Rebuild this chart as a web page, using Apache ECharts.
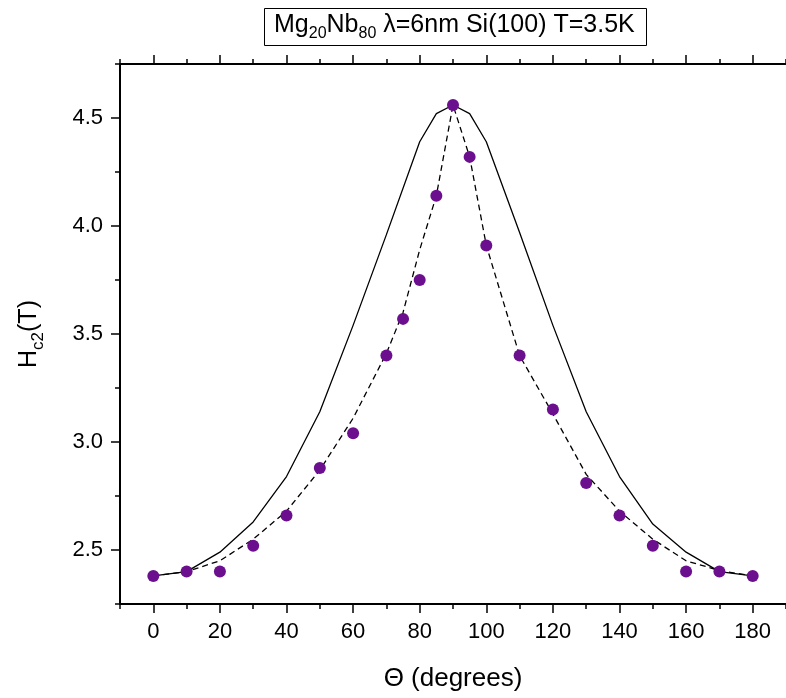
<!DOCTYPE html>
<html>
<head>
<meta charset="utf-8">
<script src="https://cdn.jsdelivr.net/npm/echarts@6/dist/echarts.min.js"></script>
<style>
  html, body { margin: 0; padding: 0; background: #fff; }
  #chart { width: 786px; height: 698px; }
</style>
</head>
<body>
<div id="chart"></div>
<script>
// Measured upper critical field vs. field angle
const thetaData = [0, 10, 20, 30, 40, 50, 60, 70, 75, 80, 85, 90, 95, 100, 110, 120, 130, 140, 150, 160, 170, 180];
const hc2Data   = [2.38, 2.40, 2.40, 2.52, 2.66, 2.88, 3.04, 3.40, 3.57, 3.75, 4.14, 4.56, 4.32, 3.91, 3.40, 3.15, 2.81, 2.66, 2.52, 2.40, 2.40, 2.38];

// Model curve (solid)
const thetaSolid = [0, 10, 20, 30, 40, 50, 60, 70, 80, 85, 90, 95, 100, 110, 120, 130, 140, 150, 160, 170, 180];
const hc2Solid   = [2.38, 2.40, 2.49, 2.63, 2.84, 3.14, 3.54, 3.96, 4.39, 4.52, 4.56, 4.52, 4.39, 3.97, 3.54, 3.14, 2.84, 2.62, 2.49, 2.40, 2.38];

// Model curve (dashed)
const thetaDashed = [0, 10, 20, 30, 40, 50, 60, 70, 75, 80, 85, 90, 95, 100, 110, 120, 130, 140, 150, 160, 170, 180];
const hc2Dashed   = [2.38, 2.40, 2.45, 2.55, 2.68, 2.87, 3.11, 3.41, 3.60, 3.89, 4.14, 4.56, 4.32, 3.91, 3.40, 3.13, 2.85, 2.68, 2.55, 2.45, 2.405, 2.38];

// Axis ticks
const xMajorTicks = [0, 20, 40, 60, 80, 100, 120, 140, 160, 180];
const xMinorTicks = [-10, 10, 30, 50, 70, 90, 110, 130, 150, 170, 190];
const yMajorTicks = [2.5, 3.0, 3.5, 4.0, 4.5];
const yMinorTicks = [2.25, 2.75, 3.25, 3.75, 4.25, 4.75];

const pairs = (xs, ys) => xs.map((x, i) => [x, ys[i]]);

const FONT = 'Liberation Sans, Arial, sans-serif';
const X_RANGE = { min: -10, max: 190 };
const Y_RANGE = { min: 2.25, max: 4.75 };

function xAxisDef(position, ticks, len, showLine, showLabel) {
  return {
    type: 'value', position: position, ...X_RANGE,
    axisLine: { show: showLine, onZero: false, lineStyle: { color: '#000', width: 2 } },
    axisTick: { show: true, customValues: ticks, length: len, inside: false, lineStyle: { color: '#000', width: 1.5 } },
    axisLabel: showLabel
      ? { show: true, customValues: ticks, color: '#000', fontFamily: FONT, fontSize: 22, margin: 17 }
      : { show: false },
    splitLine: { show: false }
  };
}

function yAxisDef(ticks, len, showLine, showLabel) {
  return {
    type: 'value', position: 'left', ...Y_RANGE,
    axisLine: { show: showLine, onZero: false, lineStyle: { color: '#000', width: 2 } },
    axisTick: { show: true, customValues: ticks, length: len, inside: false, lineStyle: { color: '#000', width: 1.5 } },
    axisLabel: showLabel
      ? { show: true, customValues: ticks, color: '#000', fontFamily: FONT, fontSize: 22, margin: 17,
          formatter: v => v.toFixed(1) }
      : { show: false },
    splitLine: { show: false }
  };
}

const xMain = xAxisDef('bottom', xMajorTicks, 9, true, true);
xMain.name = '\u0398 (degrees)';
xMain.nameLocation = 'middle';
xMain.nameGap = 62;
xMain.nameTextStyle = { color: '#000', fontFamily: FONT, fontSize: 26 };

const yMain = yAxisDef(yMajorTicks, 9, true, true);
yMain.name = '{n|H}{s|c2}{n|(T)}';
yMain.nameLocation = 'middle';
yMain.nameRotate = 90;
yMain.nameGap = 78;
yMain.nameTextStyle = {
  color: '#000', fontFamily: FONT, fontSize: 25,
  rich: {
    n: { fontFamily: FONT, fontSize: 25, color: '#000', lineHeight: 30, verticalAlign: 'bottom' },
    s: { fontFamily: FONT, fontSize: 17, color: '#000', lineHeight: 30, verticalAlign: 'bottom', padding: [0, 0, -5, 0] }
  }
};

const chart = echarts.init(document.getElementById('chart'), null, { renderer: 'canvas' });
chart.setOption({
  backgroundColor: '#fff',
  animation: false,
  title: {
    text: '{n|Mg}{s|20}{n|Nb}{s|80}{n| \u03bb=6nm Si(100) T=3.5K}',
    left: 264, top: 3,
    padding: [5, 12, 4, 10],
    borderColor: '#000', borderWidth: 1,
    textStyle: {
      fontFamily: FONT, fontSize: 25, color: '#000', fontWeight: 'normal',
      rich: {
        n: { fontFamily: FONT, fontSize: 25, color: '#000', lineHeight: 30, verticalAlign: 'bottom' },
        s: { fontFamily: FONT, fontSize: 16, color: '#000', lineHeight: 30, verticalAlign: 'bottom', padding: [0, 0, -4, 0] }
      }
    }
  },
  grid: { left: 120, right: -3, top: 64, bottom: 94, containLabel: false },
  xAxis: [
    xMain,
    xAxisDef('bottom', xMinorTicks, 5, false, false),
    xAxisDef('top', xMajorTicks, 9, true, false),
    xAxisDef('top', xMinorTicks, 5, false, false)
  ],
  yAxis: [
    yMain,
    yAxisDef(yMinorTicks, 5, false, false)
  ],
  series: [
    {
      type: 'line', xAxisIndex: 0, yAxisIndex: 0,
      data: pairs(thetaSolid, hc2Solid),
      showSymbol: false, symbol: 'none',
      lineStyle: { color: '#000', width: 1.3, type: 'solid' },
      z: 2
    },
    {
      type: 'line', xAxisIndex: 0, yAxisIndex: 0,
      data: pairs(thetaDashed, hc2Dashed),
      showSymbol: false, symbol: 'none',
      lineStyle: { color: '#000', width: 1.3, type: [6, 4] },
      z: 2
    },
    {
      type: 'scatter', xAxisIndex: 0, yAxisIndex: 0,
      data: pairs(thetaData, hc2Data),
      symbol: 'circle', symbolSize: 12,
      itemStyle: { color: '#6b0f8e', opacity: 1 },
      z: 3
    }
  ]
});
</script>
</body>
</html>
